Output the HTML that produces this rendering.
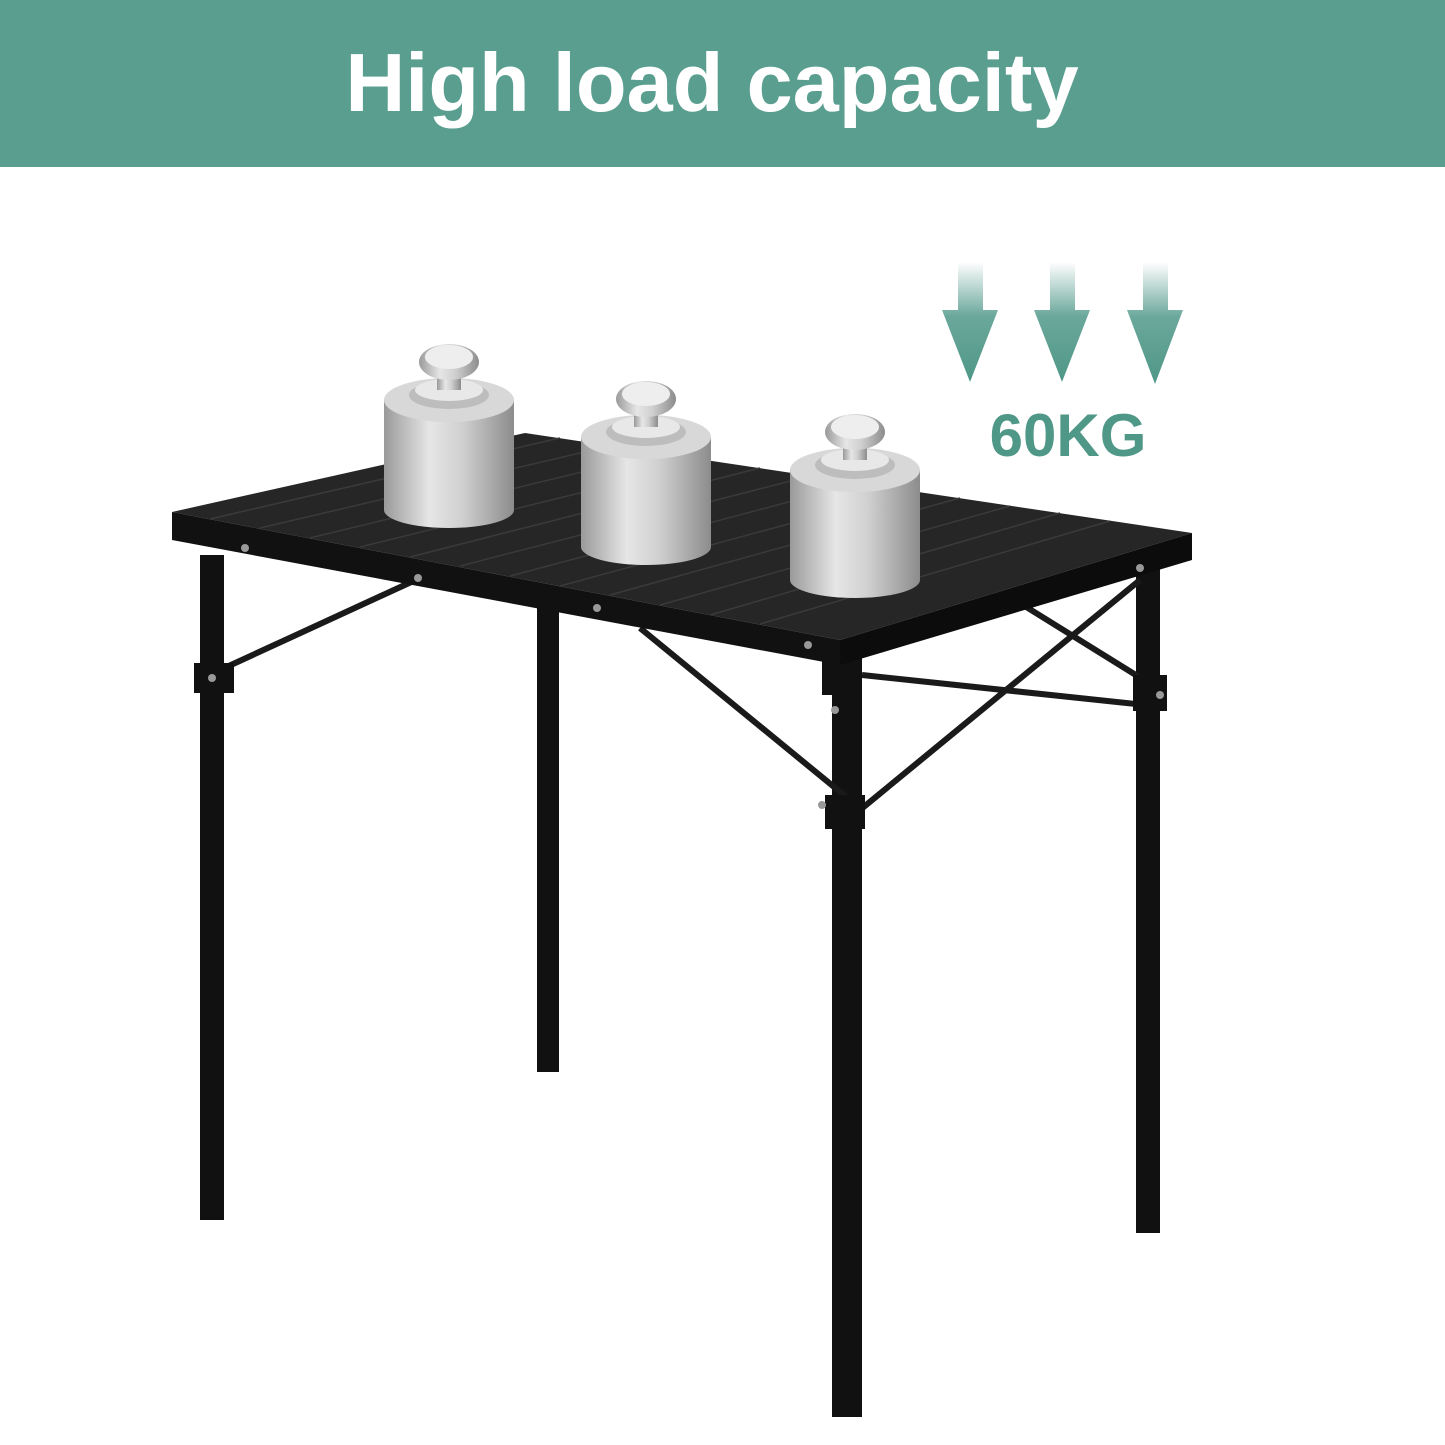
<!DOCTYPE html>
<html><head><meta charset="utf-8"><style>
html,body{margin:0;padding:0;background:#fff;}
svg{display:block}
</style></head><body>
<svg width="1445" height="1445" viewBox="0 0 1445 1445" xmlns="http://www.w3.org/2000/svg">
<defs>
<linearGradient id="ar" x1="0" y1="0" x2="0" y2="1">
<stop offset="0" stop-color="#5a9e90" stop-opacity="0"/>
<stop offset="0.45" stop-color="#5a9e90" stop-opacity="0.9"/>
<stop offset="1" stop-color="#4f9787"/>
</linearGradient>
<linearGradient id="cyl" x1="0" y1="0" x2="1" y2="0">
<stop offset="0" stop-color="#9a9a9a"/>
<stop offset="0.35" stop-color="#e6e6e6"/>
<stop offset="0.6" stop-color="#d0d0d0"/>
<stop offset="1" stop-color="#8c8c8c"/>
</linearGradient>
<g id="w">
<rect x="-65" y="-50" width="130" height="110" fill="url(#cyl)"/>
<ellipse cx="0" cy="60" rx="65" ry="18" fill="url(#cyl)"/>
<ellipse cx="0" cy="-50" rx="65" ry="22" fill="#d8d8d8"/>
<ellipse cx="0" cy="-55" rx="40" ry="14" fill="#bdbdbd"/>
<ellipse cx="0" cy="-60" rx="34" ry="11" fill="#e8e8e8"/>
<rect x="-12" y="-85" width="24" height="25" fill="url(#cyl)"/>
<ellipse cx="0" cy="-88" rx="30" ry="18" fill="url(#cyl)"/>
<ellipse cx="0" cy="-93" rx="24" ry="12" fill="#eee"/>
</g>
</defs>
<rect x="0" y="0" width="1445" height="167" fill="#5a9e90"/>
<text x="712" y="111" text-anchor="middle" font-family="Liberation Sans, sans-serif" font-weight="bold" font-size="83" fill="#fff">High load capacity</text>

<g fill="url(#ar)">
<polygon points="958,262 983,262 983,310 998,310 970,382 942,310 958,310"/>
<polygon points="1050,262 1075,262 1075,310 1090,310 1062,382 1034,310 1050,310"/>
<polygon points="1143,262 1168,262 1168,310 1183,310 1155,384 1127,310 1143,310"/>
</g>
<text x="1068" y="456" text-anchor="middle" font-family="Liberation Sans, sans-serif" font-weight="bold" font-size="60" fill="#4f9787">60KG</text>

<g fill="#111">
<rect x="537" y="600" width="22" height="472"/>
<rect x="1136" y="565" width="24" height="668"/>
<rect x="200" y="555" width="24" height="665"/>
<rect x="832" y="655" width="30" height="762"/>
</g>
<g stroke="#1a1a1a" stroke-width="6" fill="none">
<line x1="220" y1="670" x2="420" y2="578"/>
<line x1="640" y1="628" x2="850" y2="800"/>
<line x1="860" y1="810" x2="1140" y2="580"/>
<line x1="1015" y1="600" x2="1160" y2="690"/>
<line x1="862" y1="675" x2="1145" y2="705"/>
</g>
<rect x="194" y="663" width="40" height="30" fill="#111"/>
<rect x="825" y="795" width="40" height="34" fill="#111"/>
<rect x="1133" y="675" width="34" height="36" fill="#111"/>
<rect x="822" y="655" width="40" height="40" fill="#111"/>
<polygon points="172,512 525,433 1192,533 840,640" fill="#262626"/>
<polygon points="172,512 840,640 840,665 172,540" fill="#111"/>
<polygon points="840,640 1192,533 1192,560 840,665" fill="#0c0c0c"/>
<g stroke="#3a3a3a" stroke-width="1.5">
<line x1="210" y1="519" x2="560" y2="438"/>
<line x1="260" y1="528" x2="610" y2="446"/>
<line x1="310" y1="538" x2="660" y2="453"/>
<line x1="360" y1="547" x2="710" y2="461"/>
<line x1="410" y1="557" x2="760" y2="468"/>
<line x1="460" y1="566" x2="810" y2="476"/>
<line x1="510" y1="576" x2="860" y2="483"/>
<line x1="560" y1="586" x2="910" y2="491"/>
<line x1="610" y1="595" x2="960" y2="498"/>
<line x1="660" y1="605" x2="1010" y2="506"/>
<line x1="710" y1="615" x2="1060" y2="513"/>
<line x1="760" y1="624" x2="1110" y2="521"/>
</g>
<g fill="#999">
<circle cx="245" cy="548" r="4"/><circle cx="418" cy="578" r="4"/><circle cx="597" cy="608" r="4"/>
<circle cx="808" cy="645" r="4"/><circle cx="1140" cy="568" r="4"/><circle cx="212" cy="678" r="4"/>
<circle cx="835" cy="710" r="4"/><circle cx="822" cy="805" r="4"/><circle cx="1160" cy="695" r="4"/>
</g>
<use href="#w" x="449" y="450"/>
<use href="#w" x="646" y="487"/>
<use href="#w" x="855" y="520"/>
</svg>
</body></html>
